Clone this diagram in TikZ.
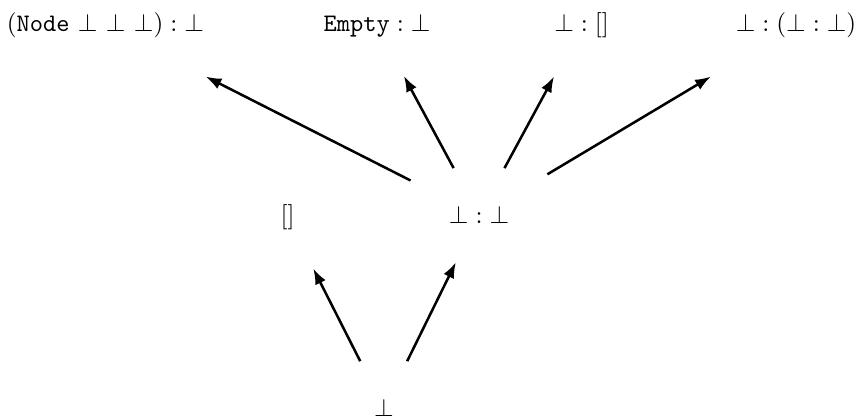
\documentclass[tikz,border=0pt]{standalone}
\usepackage{amsmath}
\usepackage{amssymb}
\usepackage{tikz}
\usetikzlibrary{positioning, arrows.meta}

\begin{document}
\begin{tikzpicture}[
        term/.style  = {inner sep=15pt, anchor=base},
        arrow/.style = {-{Latex[length=2.2mm, width=1.6mm]}, line width=1pt},
    ]
        \useasboundingbox (0,0) rectangle (11.997,5.817);
        \node[term] (bot) at (5.357,0) {$\bot$};
        \node[term] (nil) at (4.011,2.693) {$[]$};
        \node[term] (cons) at (6.682,2.693) {$\bot : \bot$};
        \node[term] (tree) at (1.47,5.371) {$(\texttt{Node}\ \bot\ \bot\ \bot) : \bot$};
        \node[term] (empty) at (5.259,5.371) {$\texttt{Empty} : \bot$};
        \node[term] (bnil) at (8.113,5.371) {$\bot : []$};
        \node[term] (bcons) at (11.104,5.371) {$\bot : (\bot : \bot)$};
        \draw[arrow] (bot) -- (nil);
        \draw[arrow] (bot) -- (cons);
        \draw[arrow] (cons) -- (tree);
        \draw[arrow] (cons) -- (empty);
        \draw[arrow] (cons) -- (bnil);
        \draw[arrow] (cons) -- (bcons);
    \end{tikzpicture}
\end{document}
